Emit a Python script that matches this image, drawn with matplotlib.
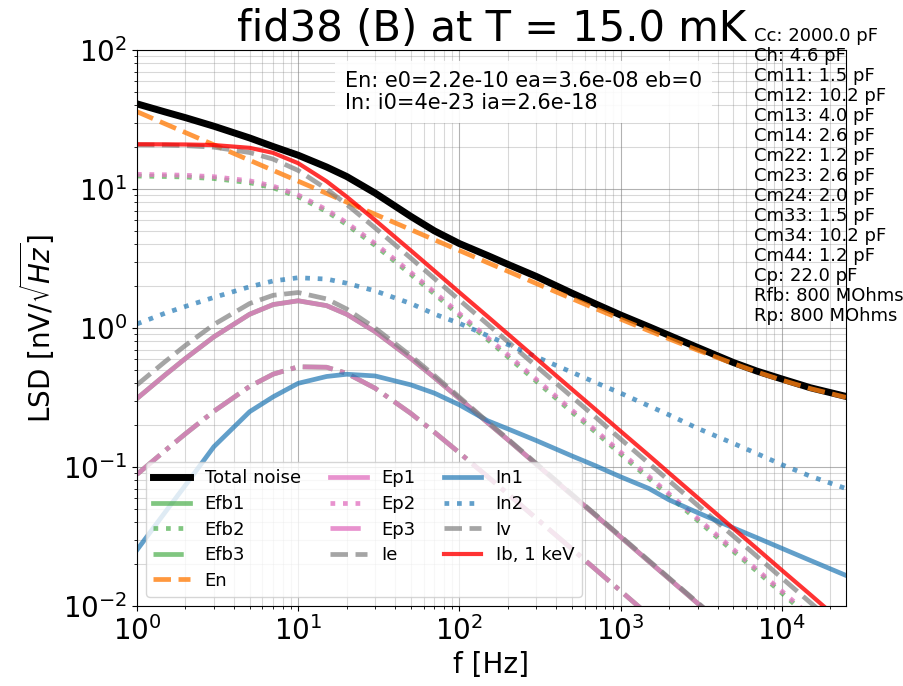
import matplotlib
matplotlib.use("Agg")
from matplotlib import pyplot as plt

# frequencies [Hz] at which the curves were read
freq = [1, 1.5, 2, 3, 5, 7, 10, 15, 20, 30, 50, 70, 100, 150, 200, 300,
        500, 700, 1000, 1500, 2000, 3000, 5000, 7000, 10000, 15000, 25000]

# LSD values [nV/sqrt(Hz)]
total = [41.0, 35.8, 32.6, 28.3, 23.3, 20.2, 17.5, 14.4, 12.3, 9.35, 6.35,
         5.0, 4.05, 3.32, 2.87, 2.35, 1.78, 1.49, 1.24, 1.02, 0.885, 0.725,
         0.565, 0.49, 0.43, 0.372, 0.322]
en = [36.0, 29.39, 25.46, 20.79, 16.10, 13.61, 11.39, 9.30, 8.05, 6.58, 5.10,
      4.31, 3.61, 2.95, 2.56, 2.09, 1.625, 1.378, 1.159, 0.955, 0.835, 0.693,
      0.555, 0.483, 0.422, 0.367, 0.317]
efb1 = [0.311, 0.461, 0.604, 0.864, 1.256, 1.475, 1.57, 1.449, 1.256, 0.942,
        0.604, 0.44, 0.311, 0.208, 0.157, 0.1046, 0.0628, 0.0449, 0.0314,
        0.0209, 0.0157, 0.01047, 0.00628, 0.00449, 0.00314, 0.0021, 0.00126]
efb2 = [12.4, 12.3, 12.2, 11.9, 11.1, 10.2, 8.8, 6.9, 5.55, 3.93, 2.43,
        1.76, 1.23, 0.825, 0.62, 0.414, 0.248, 0.178, 0.124, 0.0827, 0.062,
        0.0414, 0.0248, 0.0178, 0.0124, 0.0082, 0.0049]
efb3 = [0.0885, 0.1317, 0.1735, 0.2518, 0.380, 0.4657, 0.526, 0.522, 0.472,
        0.369, 0.243, 0.178, 0.1266, 0.0851, 0.064, 0.0427, 0.0257, 0.01834,
        0.01284, 0.00856, 0.00642, 0.00428, 0.00257, 0.00183, 0.00128,
        0.00086, 0.00051]
ep1 = [0.311, 0.461, 0.604, 0.864, 1.256, 1.475, 1.57, 1.449, 1.256, 0.942,
       0.604, 0.44, 0.311, 0.208, 0.157, 0.1046, 0.0628, 0.0449, 0.0314,
       0.0209, 0.0157, 0.01047, 0.00628, 0.00449, 0.00314, 0.0021, 0.00126]
ep2 = [12.74, 12.66, 12.55, 12.26, 11.45, 10.49, 9.05, 7.10, 5.72, 4.05, 2.51,
       1.81, 1.27, 0.85, 0.64, 0.427, 0.256, 0.183, 0.128, 0.0853, 0.064,
       0.0427, 0.0256, 0.0183, 0.0128, 0.0085, 0.0051]
ep3 = [0.0885, 0.1317, 0.1735, 0.2518, 0.380, 0.4657, 0.526, 0.522, 0.472,
       0.369, 0.243, 0.178, 0.1266, 0.0851, 0.064, 0.0427, 0.0257, 0.01834,
       0.01284, 0.00856, 0.00642, 0.00428, 0.00257, 0.00183, 0.00128,
       0.00086, 0.00051]
ie = [20.8, 20.7, 20.5, 20.0, 18.3, 16.4, 13.6, 10.0, 7.75, 5.25, 3.18, 2.27,
      1.59, 1.062, 0.796, 0.531, 0.319, 0.228, 0.159, 0.106, 0.0796, 0.0531,
      0.0319, 0.0228, 0.0159, 0.0106, 0.0064]
in1 = [0.0253, 0.0475, 0.074, 0.14, 0.25, 0.32, 0.40, 0.448, 0.465, 0.452,
       0.39, 0.34, 0.28, 0.215, 0.188, 0.155, 0.12, 0.102, 0.085, 0.07,
       0.058, 0.047, 0.0365, 0.031, 0.026, 0.0213, 0.0166]
in2 = [1.07, 1.28, 1.43, 1.66, 1.98, 2.18, 2.3, 2.25, 2.1, 1.85, 1.5, 1.26,
       1.08, 0.88, 0.76, 0.62, 0.48, 0.405, 0.34, 0.275, 0.237, 0.19, 0.148,
       0.125, 0.104, 0.086, 0.07]
iv = [0.39, 0.575, 0.75, 1.06, 1.5, 1.72, 1.8, 1.62, 1.37, 1.0, 0.63, 0.455,
      0.318, 0.211, 0.159, 0.106, 0.0635, 0.0454, 0.0318, 0.0212, 0.0159,
      0.0106, 0.0064, 0.0045, 0.0032, 0.0021, 0.0013]
ib = [20.99, 20.96, 20.91, 20.71, 19.78, 18.19, 15.33, 11.36, 8.80, 5.97,
      3.61, 2.58, 1.805, 1.207, 0.905, 0.603, 0.362, 0.259, 0.181, 0.121,
      0.0905, 0.0603, 0.0362, 0.0259, 0.0181, 0.0121, 0.00724]

title = "fid38 (B) at T = 15.0 mK"
noise_params = "En: e0=2.2e-10 ea=3.6e-08 eb=0\nIn: i0=4e-23 ia=2.6e-18"
circuit = ["Cc: 2000.0 pF", "Ch: 4.6 pF", "Cm11: 1.5 pF", "Cm12: 10.2 pF",
           "Cm13: 4.0 pF", "Cm14: 2.6 pF", "Cm22: 1.2 pF", "Cm23: 2.6 pF",
           "Cm24: 2.0 pF", "Cm33: 1.5 pF", "Cm34: 10.2 pF", "Cm44: 1.2 pF",
           "Cp: 22.0 pF", "Rfb: 800 MOhms", "Rp: 800 MOhms"]

fig = plt.figure(figsize=(9.04, 6.86), dpi=100)
ax = fig.add_axes([0.1515, 0.1166, 0.7843, 0.8105])

lw = 3.4
ax.loglog(freq, total, color='black', lw=5, label='Total noise')
ax.loglog(freq, efb1, color='tab:green', alpha=0.6, lw=lw, ls='-', label='Efb1')
ax.loglog(freq, efb2, color='tab:green', alpha=0.6, lw=lw, ls=':', label='Efb2')
ax.loglog(freq, efb3, color='tab:green', alpha=0.6, lw=lw, ls='-.', label='Efb3')
ax.loglog(freq, en, color='tab:orange', alpha=0.8, lw=lw, ls='--', label='En')
ax.loglog(freq, ep1, color='tab:pink', alpha=0.8, lw=lw, ls='-', label='Ep1')
ax.loglog(freq, ep2, color='tab:pink', alpha=0.8, lw=lw, ls=':', label='Ep2')
ax.loglog(freq, ep3, color='tab:pink', alpha=0.8, lw=lw, ls='-.', label='Ep3')
ax.loglog(freq, ie, color='tab:gray', alpha=0.7, lw=lw, ls='--', label='Ie')
ax.loglog(freq, in1, color='tab:blue', alpha=0.7, lw=lw, ls='-', label='In1')
ax.loglog(freq, in2, color='tab:blue', alpha=0.7, lw=lw, ls=':', label='In2')
ax.loglog(freq, iv, color='tab:gray', alpha=0.7, lw=lw, ls='--', label='Iv')
ax.loglog(freq, ib, color='red', alpha=0.8, lw=3, ls='-', label='Ib, 1 keV')

ax.set_xlim(1, 25000)
ax.set_ylim(1e-2, 1e2)
ax.grid(True, which='major', color='gray', alpha=0.6, lw=0.8)
ax.grid(True, which='minor', color='gray', alpha=0.3, lw=0.8)
ax.tick_params(labelsize=20)
ax.set_xlabel('f [Hz]', fontsize=20)
ax.set_ylabel(r'LSD [nV/$\sqrt{Hz}$]', fontsize=20)
ax.set_title(title, fontsize=30, pad=4)

ax.text(0.293, 0.963, noise_params, transform=ax.transAxes, fontsize=15,
        ha='left', va='top', linespacing=1.15,
        bbox=dict(facecolor='white', edgecolor='none', alpha=0.9, pad=7))
fig.text(0.834, 0.96, "\n".join(circuit), fontsize=13, ha='left', va='top',
         linespacing=1.14)

ax.legend(loc='lower left', ncol=3, fontsize=13, labelspacing=0.42,
          handlelength=2.05, columnspacing=1.6)

fig.savefig('out.png', dpi=100)
